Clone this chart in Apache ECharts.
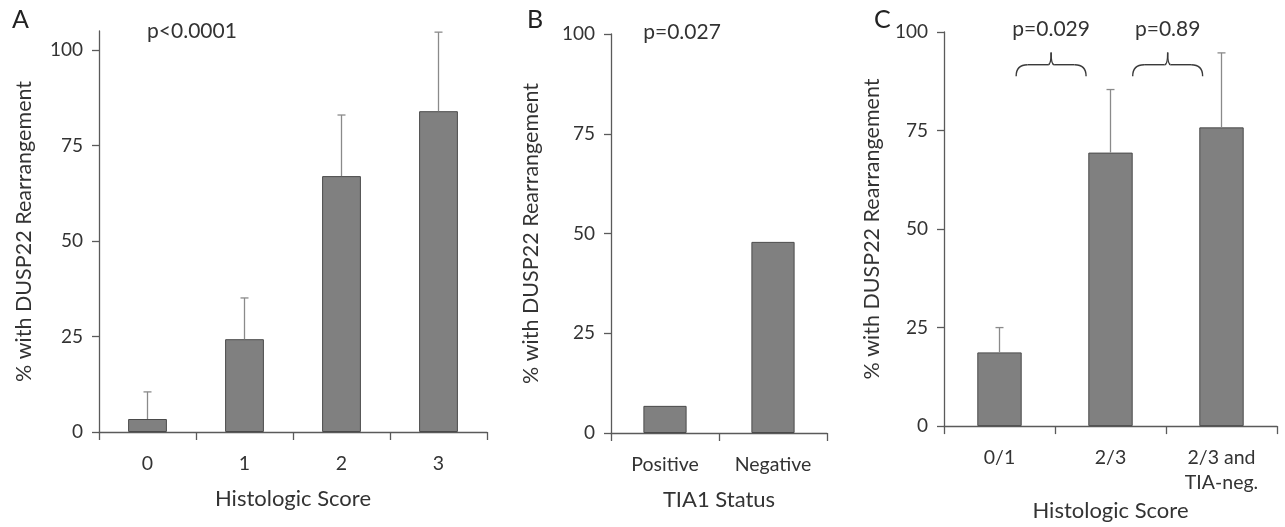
<!DOCTYPE html>
<html>
<head>
<meta charset="utf-8">
<script src="https://cdn.jsdelivr.net/npm/echarts@6/dist/echarts.min.js"></script>
<style>
html,body{margin:0;padding:0;background:#fff;}
#chart{width:1285px;height:527px;}
</style>
</head>
<body>
<div id="chart"></div>
<script>
// ---- data ----
const catsA = ['0', '1', '2', '3'];
const valsA = [3.4, 24.3, 67.0, 84.0];
const errA  = [10.5, 35.1, 83.0, 104.7];

const catsB = ['Positive', 'Negative'];
const valsB = [6.8, 47.9];

const catsC = ['0/1', '2/3', '2/3 and\nTIA-neg.'];
const valsC = [18.7, 69.4, 75.8];
const errC  = [25.0, 85.4, 94.7];

const yTicks = [0, 25, 50, 75, 100];

// brace annotations on panel C (category-index positions, value heights)
const braceFrom = [0.15, 1.20];
const braceTo   = [0.78, 1.83];
const braceLine = [91.7, 91.7];
const braceEnd  = [88.8, 88.8];
const bracePeak = [94.8, 94.8];
const braceText = ['p=0.029', 'p=0.89'];
const braceTextY = [100.8, 100.8];

const FONT = 'Lato';
const TXT = '#333333';
const AX = '#5a5a5a';

const chart = echarts.init(document.getElementById('chart'));

function xAxisCfg(idx, cats, name, gap) {
  return {
    type: 'category', gridIndex: idx, data: cats,
    name: name, nameLocation: 'middle', nameGap: gap,
    nameTextStyle: {fontFamily: FONT, fontSize: 22, color: TXT},
    axisLine: {lineStyle: {color: AX, width: 1.3}},
    axisTick: {show: true, length: 8, lineStyle: {color: AX, width: 1.3}},
    axisLabel: {fontFamily: FONT, fontSize: 19.5, color: TXT, margin: 19, lineHeight: 25}
  };
}
function yAxisCfg(idx, max, gap) {
  return {
    type: 'value', gridIndex: idx, min: 0, max: max, interval: 25,
    name: '% with DUSP22 Rearrangement', nameLocation: 'middle', nameGap: gap,
    nameTextStyle: {fontFamily: FONT, fontSize: 21.5, color: TXT},
    axisLine: {show: true, lineStyle: {color: AX, width: 1.3}},
    axisTick: {show: true, length: 7, lineStyle: {color: AX, width: 1.3}, customValues: yTicks},
    axisLabel: {fontFamily: FONT, fontSize: 19, color: TXT, margin: 16, customValues: yTicks},
    splitLine: {show: false}
  };
}
const barStyle = {color: '#808080', borderColor: '#4a4a4a', borderWidth: 1};

function errItem(params, api) {
  const x = api.value(0), v = api.value(1), e = api.value(2);
  const p0 = api.coord([x, v]);
  const p1 = api.coord([x, e]);
  const st = {stroke: '#8a8a8a', lineWidth: 1.3};
  return {type: 'group', children: [
    {type: 'line', shape: {x1: p0[0], y1: p0[1], x2: p1[0], y2: p1[1]}, style: st},
    {type: 'line', shape: {x1: p1[0] - 4, y1: p1[1], x2: p1[0] + 4, y2: p1[1]}, style: st}
  ]};
}

function braceItem(params, api) {
  const f0 = api.value(0), f1 = api.value(1);
  const yl = api.value(2), ye = api.value(3), yp = api.value(4), yt = api.value(6);
  const c0 = api.coord([0, yl]), c1 = api.coord([1, yl]);
  const bw = c1[0] - c0[0];
  const xa = c0[0] + f0 * bw, xb = c0[0] + f1 * bw, xm = (xa + xb) / 2;
  const pyL = c0[1], pyE = api.coord([0, ye])[1], pyP = api.coord([0, yp])[1], pyT = api.coord([0, yt])[1];
  const r = pyE - pyL;
  const st = {stroke: '#3a3a3a', lineWidth: 1.4, fill: null};
  return {type: 'group', children: [
    {type: 'bezierCurve', shape: {x1: xa, y1: pyE, x2: xa + r, y2: pyL, cpx1: xa, cpy1: pyL}, style: st},
    {type: 'line', shape: {x1: xa + r, y1: pyL, x2: xm - 3, y2: pyL}, style: st},
    {type: 'bezierCurve', shape: {x1: xm - 3, y1: pyL, x2: xm, y2: pyP, cpx1: xm, cpy1: pyL}, style: st},
    {type: 'bezierCurve', shape: {x1: xm, y1: pyP, x2: xm + 3, y2: pyL, cpx1: xm, cpy1: pyL}, style: st},
    {type: 'line', shape: {x1: xm + 3, y1: pyL, x2: xb - r, y2: pyL}, style: st},
    {type: 'bezierCurve', shape: {x1: xb - r, y1: pyL, x2: xb, y2: pyE, cpx1: xb, cpy1: pyL}, style: st},
    {type: 'text', x: xm, y: pyT, style: {text: braceText[params.dataIndex], fontFamily: FONT, fontSize: 21, fill: TXT, align: 'center', verticalAlign: 'middle'}}
  ]};
}

const option = {
  animation: false,
  backgroundColor: '#ffffff',
  grid: [
    {left: 99, top: 31, width: 388, height: 401},
    {left: 611, top: 34, width: 216, height: 399},
    {left: 944, top: 32, width: 333, height: 396}
  ],
  xAxis: [
    xAxisCfg(0, catsA, 'Histologic Score', 56),
    xAxisCfg(1, catsB, 'TIA1 Status', 56),
    xAxisCfg(2, catsC, 'Histologic Score', 68)
  ],
  yAxis: [
    yAxisCfg(0, 105, 64),
    yAxisCfg(1, 100, 69),
    yAxisCfg(2, 100, 61)
  ],
  graphic: [
    {type: 'text', left: 12, top: 7, style: {text: 'A', fontFamily: FONT, fontSize: 25, fill: '#222'}},
    {type: 'text', left: 527, top: 7, style: {text: 'B', fontFamily: FONT, fontSize: 25, fill: '#222'}},
    {type: 'text', left: 874, top: 7, style: {text: 'C', fontFamily: FONT, fontSize: 25, fill: '#222'}},
    {type: 'text', x: 192, y: 31, style: {text: 'p<0.0001', fontFamily: FONT, fontSize: 21, fill: TXT, align: 'center', verticalAlign: 'middle'}},
    {type: 'text', x: 682, y: 32, style: {text: 'p=0.027', fontFamily: FONT, fontSize: 21, fill: TXT, align: 'center', verticalAlign: 'middle'}}
  ],
  series: [
    {type: 'bar', xAxisIndex: 0, yAxisIndex: 0, data: valsA, barWidth: '40%', itemStyle: barStyle},
    {type: 'custom', xAxisIndex: 0, yAxisIndex: 0, renderItem: errItem, data: catsA.map((c, i) => [i, valsA[i], errA[i]]), z: 3},
    {type: 'bar', xAxisIndex: 1, yAxisIndex: 1, data: valsB, barWidth: '40%', itemStyle: barStyle},
    {type: 'bar', xAxisIndex: 2, yAxisIndex: 2, data: valsC, barWidth: '40%', itemStyle: barStyle},
    {type: 'custom', xAxisIndex: 2, yAxisIndex: 2, renderItem: errItem, data: catsC.map((c, i) => [i, valsC[i], errC[i]]), z: 3},
    {type: 'custom', xAxisIndex: 2, yAxisIndex: 2, renderItem: braceItem, clip: false,
     data: braceFrom.map((f, i) => [f, braceTo[i], braceLine[i], braceEnd[i], bracePeak[i], i, braceTextY[i]]), z: 4}
  ]
};
chart.setOption(option);
</script>
</body>
</html>
